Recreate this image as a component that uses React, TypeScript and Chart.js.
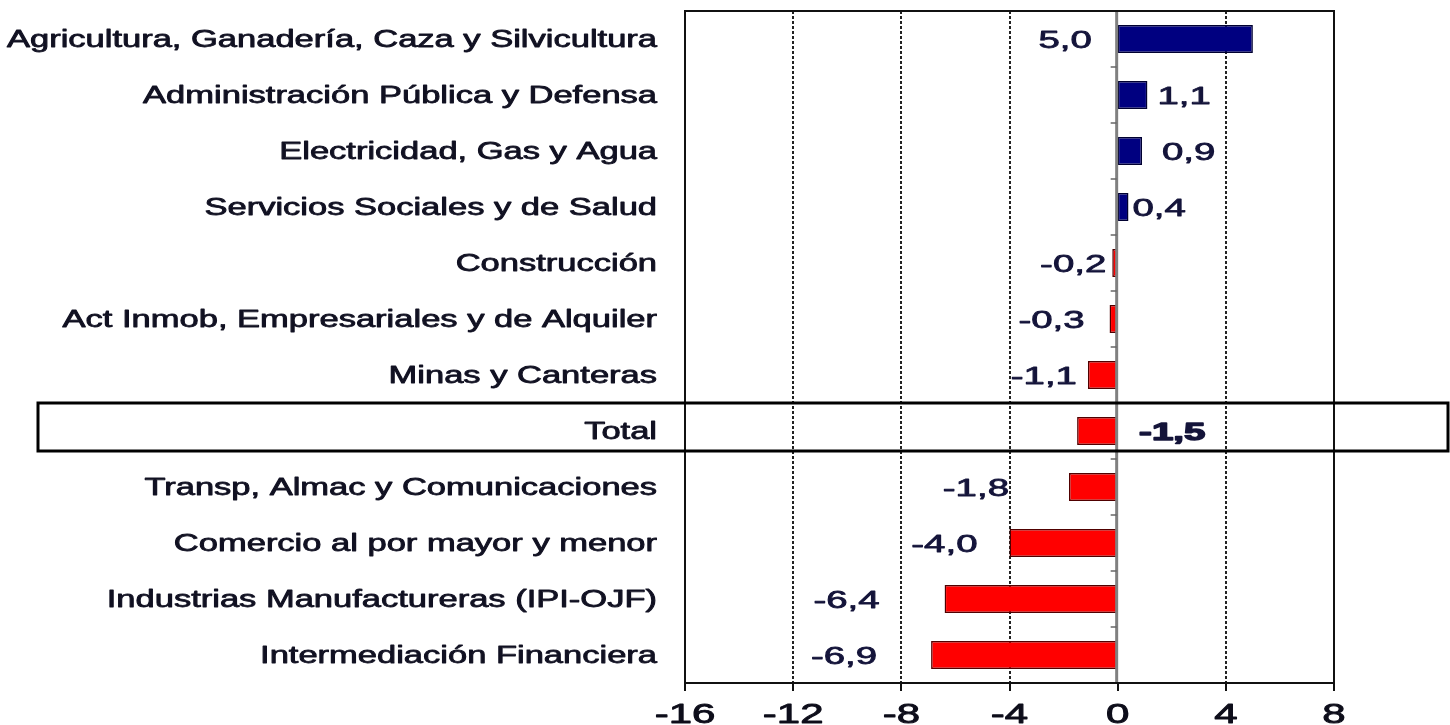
import React, { useEffect, useRef } from "react";
import { Chart, registerables } from "chart.js";

Chart.register(...registerables);

const categories = [
  "Agricultura, Ganadería, Caza y Silvicultura",
  "Administración Pública y Defensa",
  "Electricidad, Gas y Agua",
  "Servicios Sociales y de Salud",
  "Construcción",
  "Act Inmob, Empresariales y de Alquiler",
  "Minas y Canteras",
  "Total",
  "Transp, Almac y Comunicaciones",
  "Comercio al por mayor y menor",
  "Industrias Manufactureras (IPI-OJF)",
  "Intermediación Financiera",
];

const values = [5.0, 1.1, 0.9, 0.4, -0.2, -0.3, -1.1, -1.5, -1.8, -4.0, -6.4, -6.9];

const valueLabels = ["5,0", "1,1", "0,9", "0,4", "-0,2", "-0,3", "-1,1", "-1,5", "-1,8", "-4,0", "-6,4", "-6,9"];

const xTicks = [-16, -12, -8, -4, 0, 4, 8];

const totalIndex = 7;

// pixel offsets of each value label from its bar end (style only)
const labelOffsets = [-161, 10, 20, 4, -6, -25, -11, 62, -60, -32, -65, -54];

const POS_COLOR = "#000080";
const NEG_COLOR = "#FF0000";
const FONT = "'Liberation Sans', Arial, sans-serif";

function drawStretched(
  ctx: CanvasRenderingContext2D,
  text: string,
  x: number,
  y: number,
  font: string,
  sx: number,
  align: CanvasTextAlign,
  color: string,
  weight = 0.7
) {
  ctx.save();
  ctx.translate(x, y);
  ctx.scale(sx, 1);
  ctx.font = font;
  ctx.textAlign = align;
  ctx.textBaseline = "alphabetic";
  ctx.fillStyle = color;
  ctx.fillText(text, 0, 0);
  if (weight > 0) {
    ctx.strokeStyle = color;
    ctx.lineWidth = weight;
    ctx.lineJoin = "round";
    ctx.strokeText(text, 0, 0);
  }
  ctx.restore();
}

const decorPlugin = {
  id: "decor",
  beforeDatasetsDraw(chart: any) {
    const ctx: CanvasRenderingContext2D = chart.ctx;
    const area = chart.chartArea;
    const xs = chart.scales.x;
    ctx.save();
    ctx.strokeStyle = "#222";
    ctx.lineWidth = 2;
    ctx.setLineDash([3, 2]);
    xTicks.forEach((t) => {
      if (t === 0 || t === xTicks[0] || t === xTicks[xTicks.length - 1]) return;
      const px = Math.round(xs.getPixelForValue(t));
      ctx.beginPath();
      ctx.moveTo(px, area.top);
      ctx.lineTo(px, area.bottom);
      ctx.stroke();
    });
    ctx.restore();
  },
  afterDatasetsDraw(chart: any) {
    const ctx: CanvasRenderingContext2D = chart.ctx;
    const area = chart.chartArea;
    const xs = chart.scales.x;
    const ys = chart.scales.y;
    const zero = xs.getPixelForValue(0);
    const rowH = (area.bottom - area.top) / categories.length;

    // zero axis line
    ctx.save();
    ctx.strokeStyle = "#808080";
    ctx.lineWidth = 3;
    ctx.beginPath();
    ctx.moveTo(zero - 1, area.top);
    ctx.lineTo(zero - 1, area.bottom);
    ctx.stroke();

    // category tick marks on zero axis
    ctx.strokeStyle = "#666";
    ctx.lineWidth = 1.5;
    for (let i = 0; i <= categories.length; i++) {
      const py = Math.round(area.top + i * rowH);
      ctx.beginPath();
      ctx.moveTo(zero - 7, py);
      ctx.lineTo(zero - 1, py);
      ctx.stroke();
    }

    // plot border
    ctx.strokeStyle = "#111";
    ctx.lineWidth = 2;
    ctx.strokeRect(area.left, area.top, area.right - area.left, area.bottom - area.top);

    // x tick marks
    xTicks.forEach((t) => {
      const px = Math.round(xs.getPixelForValue(t));
      ctx.beginPath();
      ctx.moveTo(px, area.bottom);
      ctx.lineTo(px, area.bottom + 8);
      ctx.stroke();
    });
    ctx.restore();

    // x tick labels
    xTicks.forEach((t) => {
      const px = xs.getPixelForValue(t);
      drawStretched(ctx, String(t), px, area.bottom + 40, `28px ${FONT}`, 1.5, "center", "#0d0d1a", 0.9);
    });

    // category labels
    categories.forEach((c, i) => {
      const py = ys.getPixelForValue(i);
      drawStretched(ctx, c, area.left - 28, py + 8, `23px ${FONT}`, 1.5, "right", "#111122", 0.8);
    });

    // value labels
    values.forEach((v, i) => {
      const py = ys.getPixelForValue(i);
      const end = xs.getPixelForValue(v);
      const off = labelOffsets[i];
      const isTotal = i === totalIndex;
      drawStretched(
        ctx,
        valueLabels[i],
        end + off,
        py + 8.5,
        `${isTotal ? "bold " : ""}24px ${FONT}`,
        1.6,
        off >= 0 ? "left" : "right",
        "#14143a",
        isTotal ? 1.4 : 0.8
      );
    });

    // Total highlight box
    const ty = ys.getPixelForValue(totalIndex);
    ctx.save();
    ctx.strokeStyle = "#000";
    ctx.lineWidth = 3;
    ctx.strokeRect(38, ty - 28, 1410, 48);
    ctx.restore();
  },
};

export default function App() {
  const ref = useRef<HTMLCanvasElement | null>(null);
  useEffect(() => {
    if (!ref.current) return;
    const chart = new Chart(ref.current, {
      type: "bar",
      data: {
        labels: categories,
        datasets: [
          {
            data: values,
            backgroundColor: values.map((v) => (v >= 0 ? POS_COLOR : NEG_COLOR)),
            borderColor: values.map((v) => (v >= 0 ? "#000030" : "#500000")),
            borderWidth: 1.5,
            borderSkipped: false,
            barPercentage: 0.5,
            categoryPercentage: 1,
          },
        ],
      },
      options: {
        indexAxis: "y",
        animation: false,
        responsive: false,
        maintainAspectRatio: false,
        layout: { padding: { left: 685, right: 116, top: 11, bottom: 42 } },
        plugins: {
          legend: { display: false },
          tooltip: { enabled: false },
          title: { display: false },
        },
        scales: {
          x: { display: false, min: xTicks[0], max: xTicks[xTicks.length - 1] },
          y: { display: false },
        },
      },
      plugins: [decorPlugin],
    });
    return () => chart.destroy();
  }, []);
  return (
    <div style={{ position: "fixed", left: 0, top: 0, width: 1450, height: 725, background: "#fff" }}>
      <canvas ref={ref} width={1450} height={725} style={{ width: 1450, height: 725, display: "block" }} />
    </div>
  );
}
